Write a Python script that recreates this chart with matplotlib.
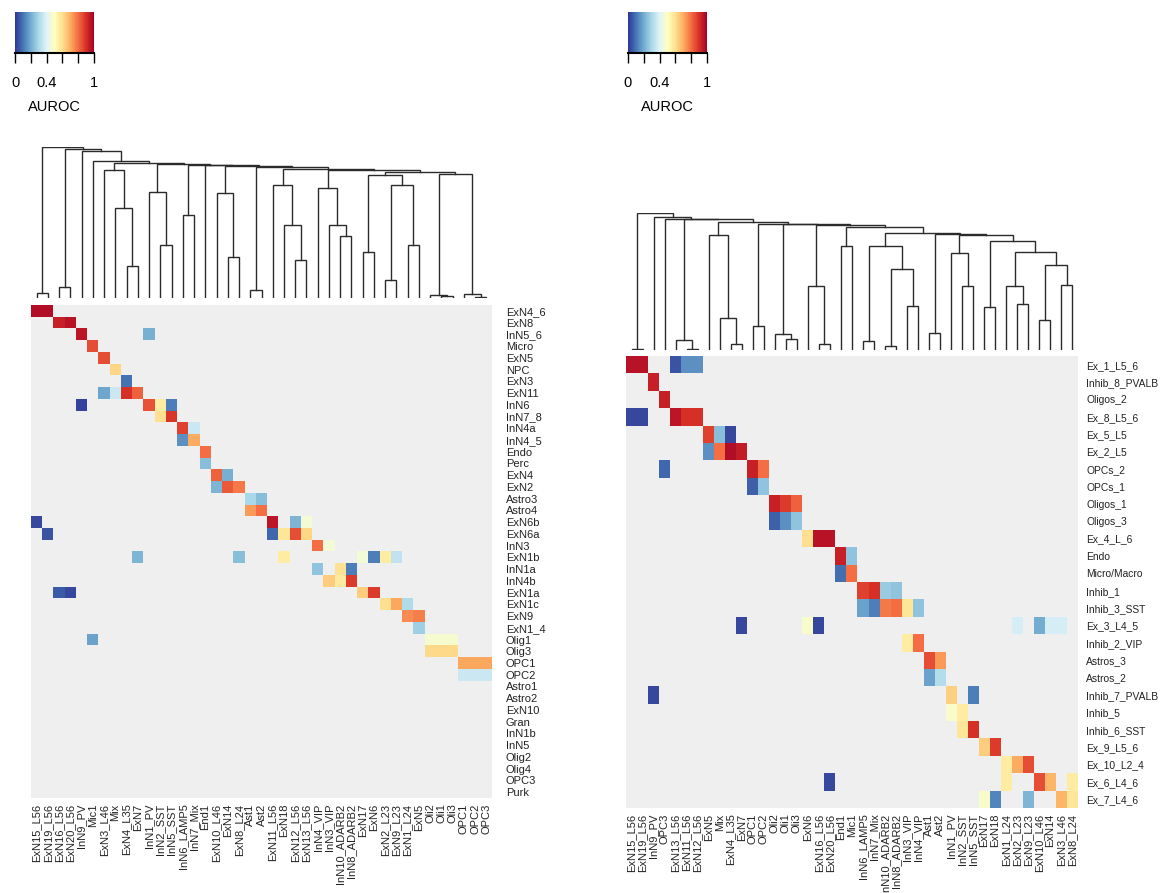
import numpy as np
import matplotlib
matplotlib.use("Agg")
import matplotlib.pyplot as plt
from matplotlib.cm import ScalarMappable
from matplotlib.colors import Normalize

plt.rcParams['font.family'] = ['Liberation Sans', 'DejaVu Sans']

# ---------------- left panel ----------------
left_rows = ["ExN4_6", "ExN8", "InN5_6", "Micro", "ExN5", "NPC", "ExN3", "ExN11", "InN6", "InN7_8",
             "InN4a", "InN4_5", "Endo", "Perc", "ExN4", "ExN2", "Astro3", "Astro4", "ExN6b", "ExN6a",
             "InN3", "ExN1b", "InN1a", "InN4b", "ExN1a", "ExN1c", "ExN9", "ExN1_4", "Olig1", "Olig3",
             "OPC1", "OPC2", "Astro1", "Astro2", "ExN10", "Gran", "InN1b", "InN5", "Olig2", "Olig4",
             "OPC3", "Purk"]
left_cols = ["ExN15_L56", "ExN19_L56", "ExN16_L56", "ExN20_L56", "InN9_PV", "Mic1", "ExN3_L46", "Mix",
             "ExN4_L35", "ExN7", "InN1_PV", "InN2_SST", "InN5_SST", "InN6_LAMP5", "InN7_Mix", "End1",
             "ExN10_L46", "ExN14", "ExN8_L24", "Ast1", "Ast2", "ExN11_L56", "ExN18", "ExN12_L56",
             "ExN13_L56", "InN4_VIP", "InN3_VIP", "InN10_ADARB2", "InN8_ADARB2", "ExN17", "ExN6",
             "ExN2_L23", "ExN9_L23", "ExN1_L24", "ExN5", "Oli2", "Oli1", "Oli3", "OPC1", "OPC2", "OPC3"]
left_values = {
    "ExN4_6": {"ExN15_L56": 0.97, "ExN19_L56": 0.97},
    "ExN8": {"ExN16_L56": 0.93, "ExN20_L56": 0.96},
    "InN5_6": {"InN9_PV": 0.95, "InN1_PV": 0.21},
    "Micro": {"Mic1": 0.85},
    "ExN5": {"ExN3_L46": 0.85},
    "NPC": {"Mix": 0.62},
    "ExN3": {"ExN4_L35": 0.1},
    "ExN11": {"ExN3_L46": 0.19, "Mix": 0.36, "ExN4_L35": 0.9, "ExN7": 0.82},
    "InN6": {"InN9_PV": 0.02, "InN1_PV": 0.84, "InN2_SST": 0.56, "InN5_SST": 0.12},
    "InN7_8": {"InN2_SST": 0.6, "InN5_SST": 0.89},
    "InN4a": {"InN6_LAMP5": 0.87, "InN7_Mix": 0.36},
    "InN4_5": {"InN6_LAMP5": 0.15, "InN7_Mix": 0.7},
    "Endo": {"End1": 0.8},
    "Perc": {"End1": 0.24},
    "ExN4": {"ExN10_L46": 0.82, "ExN14": 0.21},
    "ExN2": {"ExN10_L46": 0.22, "ExN14": 0.83, "ExN8_L24": 0.78},
    "Astro3": {"Ast1": 0.3, "Ast2": 0.24},
    "Astro4": {"Ast1": 0.73, "Ast2": 0.8},
    "ExN6b": {"ExN15_L56": 0.03, "ExN11_L56": 0.95, "ExN12_L56": 0.22, "ExN13_L56": 0.46},
    "ExN6a": {"ExN19_L56": 0.05, "ExN11_L56": 0.08, "ExN18": 0.58, "ExN12_L56": 0.85, "ExN13_L56": 0.62},
    "InN3": {"InN4_VIP": 0.8, "InN3_VIP": 0.46},
    "ExN1b": {"ExN7": 0.22, "ExN8_L24": 0.24, "ExN18": 0.56, "ExN17": 0.46, "ExN6": 0.12,
              "ExN2_L23": 0.56, "ExN9_L23": 0.34},
    "InN1a": {"InN4_VIP": 0.25, "InN10_ADARB2": 0.59, "InN8_ADARB2": 0.12},
    "InN4b": {"InN3_VIP": 0.64, "InN10_ADARB2": 0.57, "InN8_ADARB2": 0.88},
    "ExN1a": {"ExN16_L56": 0.06, "ExN20_L56": 0.03, "ExN17": 0.64, "ExN6": 0.88},
    "ExN1c": {"ExN2_L23": 0.6, "ExN9_L23": 0.71, "ExN1_L24": 0.31},
    "ExN9": {"ExN1_L24": 0.75, "ExN5": 0.77},
    "ExN1_4": {"ExN5": 0.28},
    "Olig1": {"Mic1": 0.18, "Oli2": 0.47, "Oli1": 0.47, "Oli3": 0.47},
    "Olig3": {"Oli2": 0.61, "Oli1": 0.61, "Oli3": 0.61},
    "OPC1": {"OPC1": 0.71, "OPC2": 0.71, "OPC3": 0.71},
    "OPC2": {"OPC1": 0.36, "OPC2": 0.36, "OPC3": 0.36},
}

# left dendrogram: [left, right, height], leaves are column indices
lA = [10, [11, 12, 160], 318]
lB = [13, 14, 250]
lC = [16, [17, 18, 122], 315]
lD = [19, 20, 25]
lE = [21, [22, [23, 24, 113], 220], 340]
lF = [25, [26, [27, 28, 187], 218], 330]
lG = [[29, 30, 138], [[31, 32, 53], [33, 34, 158], 340], 370]
lH = [[35, [36, 37, 7], 10], [38, [39, 40, 2], 13], 372]
lR6 = [lF, [lG, lH, 377], 385]
lR5 = [lE, lR6, 388]
lR4 = [lD, lR5, 392]
lR3 = [lC, lR4, 395]
lR2 = [15, lR3, 398]
lR1 = [lB, lR2, 400]
lN6 = [lA, lR1, 402]
lN5 = [6, [7, [8, 9, 97], 270], 385]
lN2 = [4, [5, [lN5, lN6, 405], 410], 440]
left_tree = [[0, 1, 15], [[2, 3, 32], lN2, 447], 453]

# ---------------- right panel ----------------
right_rows = ["Ex_1_L5_6", "Inhib_8_PVALB", "Oligos_2", "Ex_8_L5_6", "Ex_5_L5", "Ex_2_L5", "OPCs_2",
              "OPCs_1", "Oligos_1", "Oligos_3", "Ex_4_L_6", "Endo", "Micro/Macro", "Inhib_1",
              "Inhib_3_SST", "Ex_3_L4_5", "Inhib_2_VIP", "Astros_3", "Astros_2", "Inhib_7_PVALB",
              "Inhib_5", "Inhib_6_SST", "Ex_9_L5_6", "Ex_10_L2_4", "Ex_6_L4_6", "Ex_7_L4_6"]
right_cols = ["ExN15_L56", "ExN19_L56", "InN9_PV", "OPC3", "ExN13_L56", "ExN11_L56", "ExN12_L56",
              "ExN5", "Mix", "ExN4_L35", "ExN7", "OPC1", "OPC2", "Oli2", "Oli1", "Oli3", "ExN6",
              "ExN16_L56", "ExN20_L56", "End1", "Mic1", "InN6_LAMP5", "InN7_Mix", "InN10_ADARB2",
              "InN8_ADARB2", "InN3_VIP", "InN4_VIP", "Ast1", "Ast2", "InN1_PV", "InN2_SST", "InN5_SST",
              "ExN17", "ExN18", "ExN1_L24", "ExN2_L23", "ExN9_L23", "ExN10_L46", "ExN14", "ExN3_L46",
              "ExN8_L24"]
right_values = {
    "Ex_1_L5_6": {"ExN15_L56": 0.96, "ExN19_L56": 0.96, "ExN13_L56": 0.05, "ExN11_L56": 0.15,
                  "ExN12_L56": 0.15},
    "Inhib_8_PVALB": {"InN9_PV": 0.93},
    "Oligos_2": {"OPC3": 0.93},
    "Ex_8_L5_6": {"ExN15_L56": 0.03, "ExN19_L56": 0.03, "ExN13_L56": 0.95, "ExN11_L56": 0.9,
                  "ExN12_L56": 0.9},
    "Ex_5_L5": {"ExN5": 0.87, "Mix": 0.24, "ExN4_L35": 0.03},
    "Ex_2_L5": {"ExN5": 0.15, "Mix": 0.8, "ExN4_L35": 0.97, "ExN7": 0.94},
    "OPCs_2": {"OPC3": 0.08, "OPC1": 0.93, "OPC2": 0.8},
    "OPCs_1": {"OPC1": 0.07, "OPC2": 0.25},
    "Oligos_1": {"Oli2": 0.93, "Oli1": 0.88, "Oli3": 0.82},
    "Oligos_3": {"Oli2": 0.07, "Oli1": 0.15, "Oli3": 0.25},
    "Ex_4_L_6": {"ExN6": 0.6, "ExN16_L56": 0.96, "ExN20_L56": 0.96},
    "Endo": {"End1": 0.93, "Mic1": 0.25},
    "Micro/Macro": {"End1": 0.09, "Mic1": 0.8},
    "Inhib_1": {"InN6_LAMP5": 0.87, "InN7_Mix": 0.9, "InN10_ADARB2": 0.27, "InN8_ADARB2": 0.25},
    "Inhib_3_SST": {"InN6_LAMP5": 0.18, "InN7_Mix": 0.12, "InN10_ADARB2": 0.78, "InN8_ADARB2": 0.8,
                    "InN3_VIP": 0.58, "InN4_VIP": 0.25},
    "Ex_3_L4_5": {"ExN7": 0.03, "ExN6": 0.48, "ExN16_L56": 0.03, "ExN2_L23": 0.38,
                  "ExN10_L46": 0.2, "ExN14": 0.38, "ExN3_L46": 0.38},
    "Inhib_2_VIP": {"InN3_VIP": 0.56, "InN4_VIP": 0.8},
    "Astros_3": {"Ast1": 0.85, "Ast2": 0.73},
    "Astros_2": {"Ast1": 0.18, "Ast2": 0.32},
    "Inhib_7_PVALB": {"InN9_PV": 0.03, "InN1_PV": 0.63, "InN5_SST": 0.12},
    "Inhib_5": {"InN1_PV": 0.48, "InN2_SST": 0.56},
    "Inhib_6_SST": {"InN2_SST": 0.58, "InN5_SST": 0.9},
    "Ex_9_L5_6": {"ExN17": 0.64, "ExN18": 0.88},
    "Ex_10_L2_4": {"ExN1_L24": 0.56, "ExN2_L23": 0.7, "ExN9_L23": 0.85},
    "Ex_6_L4_6": {"ExN20_L56": 0.03, "ExN1_L24": 0.56, "ExN10_L46": 0.85, "ExN14": 0.68,
                  "ExN8_L24": 0.56},
    "Ex_7_L4_6": {"ExN17": 0.48, "ExN18": 0.13, "ExN9_L23": 0.22, "ExN3_L46": 0.68, "ExN8_L24": 0.58},
}

rP = [7, [8, [9, 10, 18], 95], 345]
rQ = [11, 12, 73]
rR = [13, [14, 15, 32], 48]
rS = [16, [17, 18, 17], 192]
rT = [19, 20, 312]
rU = [[21, 22, 27], [[23, 24, 12], [25, 26, 133], 245], 312]
rAA = [29, [30, 31, 192], 292]
rCCDD = [[34, [35, 36, 138], 192], [[37, 38, 90], [39, 40, 195], 255], 295]
rAD = [rAA, [[32, 33, 128], rCCDD, 328], 345]
rTU = [rT, [rU, [[27, 28, 52], rAD, 350], 353], 370]
rW = [rP, [rQ, [rR, [rS, rTU, 375], 378], 380], 385]
rY = [[4, [5, 6, 3], 30], rW, 393]
right_tree = [[0, 1, 4], [2, [3, rY, 395], 400], 412]


def to_matrix(rows, cols, values):
    m = np.full((len(rows), len(cols)), np.nan)
    for i, r in enumerate(rows):
        for c, v in values.get(r, {}).items():
            m[i, cols.index(c)] = v
    return m


def draw_tree(ax, node):
    # returns (x position, height) of the node
    if isinstance(node, int):
        return node + 0.5, 0.0
    x1, h1 = draw_tree(ax, node[0])
    x2, h2 = draw_tree(ax, node[1])
    h = node[2]
    ax.plot([x1, x1, x2, x2], [h1, h, h, h2], color='#2b2b2b', lw=1.0, solid_joinstyle='miter')
    return (x1 + x2) / 2, h


cmap = plt.get_cmap('RdYlBu_r').copy()
cmap.set_bad('#efefef')

W, H = 1163, 893
fig = plt.figure(figsize=(W / 100, H / 100), dpi=100)


def box(x0, y0, x1, y1):
    return [x0 / W, 1 - y1 / H, (x1 - x0) / W, (y1 - y0) / H]


def panel(rows, cols, values, tree, hm_box, dg_box, cb_box, fs, ypad):
    m = to_matrix(rows, cols, values)
    ax = fig.add_axes(box(*hm_box))
    ax.imshow(np.ma.masked_invalid(m), cmap=cmap, vmin=0, vmax=1, aspect='auto',
              interpolation='nearest', extent=(0, len(cols), len(rows), 0))
    ax.set_xticks(np.arange(len(cols)) + 0.5)
    ax.set_xticklabels(cols, rotation=90, fontsize=8, color='#222222')
    ax.set_yticks(np.arange(len(rows)) + 0.5)
    ax.set_yticklabels(rows, fontsize=fs, color='#222222')
    ax.yaxis.tick_right()
    ax.tick_params(length=0, pad=4)
    ax.tick_params(axis='y', pad=ypad)
    for s in ax.spines.values():
        s.set_visible(False)

    dg = fig.add_axes(box(*dg_box))
    draw_tree(dg, tree)
    dg.set_xlim(0, len(cols))
    dg.set_ylim(0, tree[2])
    dg.axis('off')

    cax = fig.add_axes(box(*cb_box))
    cb = fig.colorbar(ScalarMappable(Normalize(0, 1), cmap=plt.get_cmap('RdYlBu_r')), cax=cax,
                      orientation='horizontal', ticks=[0, 0.2, 0.4, 0.6, 0.8, 1.0])
    cb.outline.set_visible(False)
    cax.set_xticklabels(['0', '', '0.4', '', '', '1'])
    cax.tick_params(axis='x', direction='out', length=7.5, width=1, labelsize=10.5, pad=9)
    cax.axhline(0, color='black', lw=1.5, clip_on=False)
    cax.set_xlabel('AUROC', fontsize=10.5, labelpad=7)


panel(left_rows, left_cols, left_values, left_tree,
      (31, 305, 492, 798), (31, 147, 492, 298), (15, 12, 94, 53), 8, 10)
panel(right_rows, right_cols, right_values, right_tree,
      (626, 356, 1078, 808), (626, 213, 1078, 350), (628, 12, 707, 53), 7.4, 6)

plt.savefig("out.png", dpi=100)
